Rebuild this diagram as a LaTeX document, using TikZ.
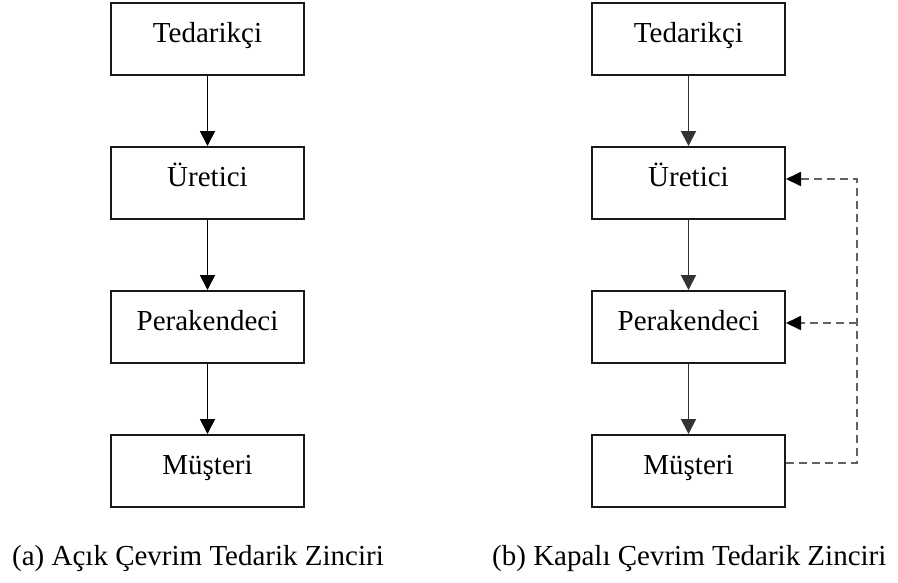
\documentclass[tikz,border=0pt]{standalone}
\usepackage{fontspec}
\setmainfont{Liberation Serif}
\usetikzlibrary{arrows.meta}
\begin{document}
\begin{tikzpicture}[x=1pt,y=-1pt,
  box/.style={draw=black!90, line width=2pt, minimum width=193pt, minimum height=72pt,
    inner sep=0pt, text height=6pt, text depth=0pt, font=\fontsize{29}{34}\selectfont},
  flow/.style={line width=1.8pt, draw=black, -{Triangle[length=15pt,width=15pt]}},
  flowb/.style={flow, draw=black!80},
  fb/.style={line width=1.8pt, dash pattern=on 8pt off 5pt, draw=black!62},
  fbarrow/.style={fb, -{Triangle[length=15pt,width=14pt,color=black]}},
  captext/.style={anchor=base west, inner sep=0pt, font=\fontsize{29}{34}\selectfont}]
\useasboundingbox (0,0) rectangle (898,582);
% (a)
\node[box] (t1) at (207.5,39) {Tedarikçi};
\node[box] (u1) at (207.5,183) {Üretici};
\node[box] (p1) at (207.5,327) {Perakendeci};
\node[box] (m1) at (207.5,471) {Müşteri};
\draw[flow] (t1) -- (u1);
\draw[flow] (u1) -- (p1);
\draw[flow] (p1) -- (m1);
% (b)
\node[box] (t2) at (688.5,39) {Tedarikçi};
\node[box] (u2) at (688.5,183) {Üretici};
\node[box] (p2) at (688.5,327) {Perakendeci};
\node[box] (m2) at (688.5,471) {Müşteri};
\draw[flowb] (t2) -- (u2);
\draw[flowb] (u2) -- (p2);
\draw[flowb] (p2) -- (m2);
\coordinate (c1) at (857,463);
\coordinate (c2) at (857,323);
\draw[fbarrow] ([yshift=8pt]m2.east) -- (c1) |- ([yshift=4pt]u2.east);
\draw[fbarrow] (c2) -- ([yshift=4pt]p2.east);
% captions
\node[captext] (capa) at (12,565) {(a) Açık Çevrim Tedarik Zinciri};
\node[captext] (capb) at (492,565) {(b) Kapalı Çevrim Tedarik Zinciri};
\end{tikzpicture}
\end{document}
